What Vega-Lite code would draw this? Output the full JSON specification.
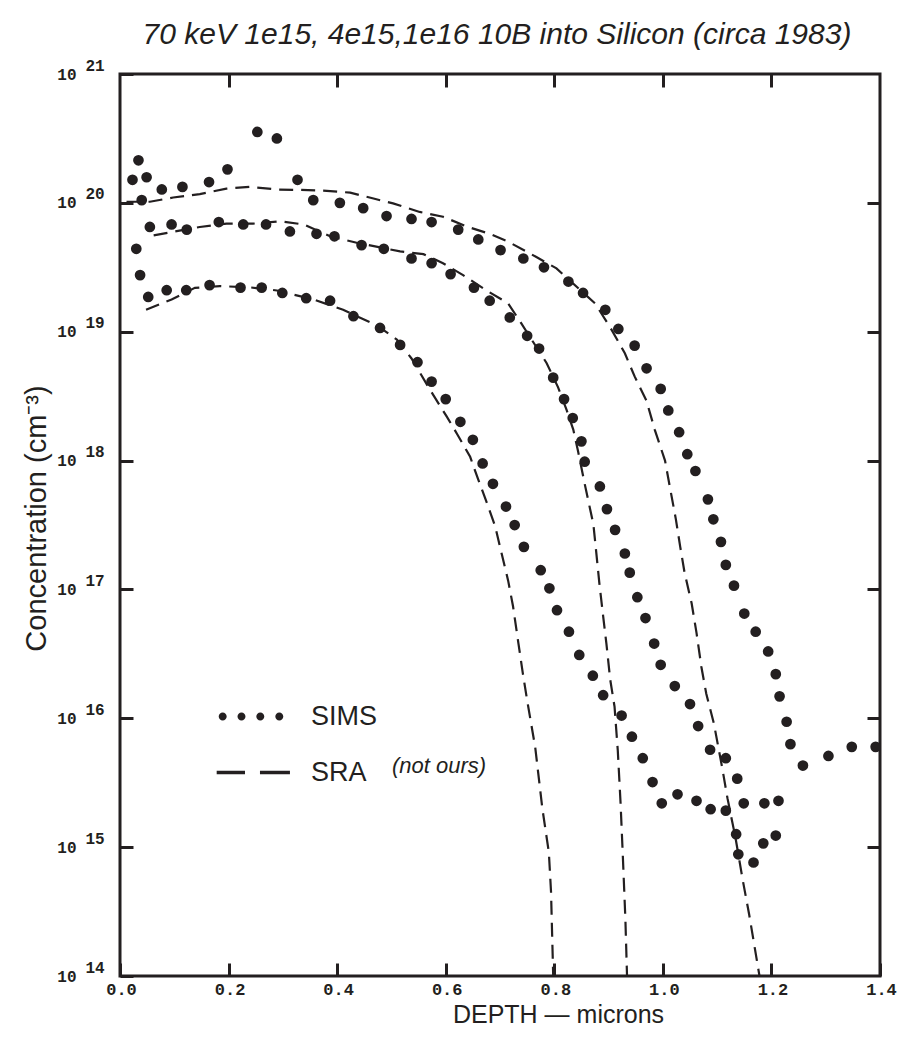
{
  "$schema": "https://vega.github.io/schema/vega-lite/v6.json",
  "width": 760,
  "height": 902,
  "autosize": {"type": "none"},
  "padding": {"left": 120, "top": 74, "right": 18, "bottom": 61},
  "background": "white",
  "title": {
    "text": "70 keV 1e15, 4e15,1e16 10B into Silicon (circa 1983)",
    "font": "Liberation Sans", "fontStyle": "italic", "fontWeight": "normal", "fontSize": 30,
    "color": "#231f20", "anchor": "middle", "baseline": "alphabetic", "offset": -17, "dx": -3
  },
  "datasets": {
    "sims": [
      {"method":"SIMS","dose":"1e16","depth":0.023,"conc":1.51e20},
      {"method":"SIMS","dose":"1e16","depth":0.034,"conc":2.14e20},
      {"method":"SIMS","dose":"1e16","depth":0.040,"conc":1.05e20},
      {"method":"SIMS","dose":"1e16","depth":0.049,"conc":1.58e20},
      {"method":"SIMS","dose":"1e16","depth":0.077,"conc":1.27e20},
      {"method":"SIMS","dose":"1e16","depth":0.115,"conc":1.33e20},
      {"method":"SIMS","dose":"1e16","depth":0.164,"conc":1.45e20},
      {"method":"SIMS","dose":"1e16","depth":0.198,"conc":1.82e20},
      {"method":"SIMS","dose":"1e16","depth":0.253,"conc":3.55e20},
      {"method":"SIMS","dose":"1e16","depth":0.289,"conc":3.16e20},
      {"method":"SIMS","dose":"1e16","depth":0.327,"conc":1.51e20},
      {"method":"SIMS","dose":"1e16","depth":0.356,"conc":1.05e20},
      {"method":"SIMS","dose":"1e16","depth":0.405,"conc":1.0e20},
      {"method":"SIMS","dose":"1e16","depth":0.448,"conc":9.1e19},
      {"method":"SIMS","dose":"1e16","depth":0.491,"conc":7.9e19},
      {"method":"SIMS","dose":"1e16","depth":0.537,"conc":7.5e19},
      {"method":"SIMS","dose":"1e16","depth":0.574,"conc":7.1e19},
      {"method":"SIMS","dose":"1e16","depth":0.623,"conc":6.2e19},
      {"method":"SIMS","dose":"1e16","depth":0.660,"conc":5.2e19},
      {"method":"SIMS","dose":"1e16","depth":0.701,"conc":4.3e19},
      {"method":"SIMS","dose":"1e16","depth":0.743,"conc":3.7e19},
      {"method":"SIMS","dose":"1e16","depth":0.781,"conc":3.16e19},
      {"method":"SIMS","dose":"1e16","depth":0.826,"conc":2.45e19},
      {"method":"SIMS","dose":"1e16","depth":0.853,"conc":2.0e19},
      {"method":"SIMS","dose":"1e16","depth":0.894,"conc":1.48e19},
      {"method":"SIMS","dose":"1e16","depth":0.918,"conc":1.05e19},
      {"method":"SIMS","dose":"1e16","depth":0.948,"conc":7.8e18},
      {"method":"SIMS","dose":"1e16","depth":0.970,"conc":5.2e18},
      {"method":"SIMS","dose":"1e16","depth":0.996,"conc":3.6e18},
      {"method":"SIMS","dose":"1e16","depth":1.010,"conc":2.45e18},
      {"method":"SIMS","dose":"1e16","depth":1.030,"conc":1.66e18},
      {"method":"SIMS","dose":"1e16","depth":1.045,"conc":1.12e18},
      {"method":"SIMS","dose":"1e16","depth":1.060,"conc":8.3e17},
      {"method":"SIMS","dose":"1e16","depth":1.083,"conc":5.0e17},
      {"method":"SIMS","dose":"1e16","depth":1.093,"conc":3.5e17},
      {"method":"SIMS","dose":"1e16","depth":1.107,"conc":2.34e17},
      {"method":"SIMS","dose":"1e16","depth":1.116,"conc":1.55e17},
      {"method":"SIMS","dose":"1e16","depth":1.131,"conc":1.07e17},
      {"method":"SIMS","dose":"1e16","depth":1.150,"conc":6.5e16},
      {"method":"SIMS","dose":"1e16","depth":1.171,"conc":4.7e16},
      {"method":"SIMS","dose":"1e16","depth":1.194,"conc":3.3e16},
      {"method":"SIMS","dose":"1e16","depth":1.208,"conc":2.2e16},
      {"method":"SIMS","dose":"1e16","depth":1.215,"conc":1.48e16},
      {"method":"SIMS","dose":"1e16","depth":1.228,"conc":9.4e15},
      {"method":"SIMS","dose":"1e16","depth":1.235,"conc":6.3e15},
      {"method":"SIMS","dose":"1e16","depth":1.258,"conc":4.3e15},
      {"method":"SIMS","dose":"1e16","depth":1.305,"conc":5.1e15},
      {"method":"SIMS","dose":"1e16","depth":1.348,"conc":6.0e15},
      {"method":"SIMS","dose":"1e16","depth":1.392,"conc":6.0e15},
      {"method":"SIMS","dose":"4e15","depth":0.030,"conc":4.4e19},
      {"method":"SIMS","dose":"4e15","depth":0.037,"conc":2.75e19},
      {"method":"SIMS","dose":"4e15","depth":0.055,"conc":6.5e19},
      {"method":"SIMS","dose":"4e15","depth":0.095,"conc":6.8e19},
      {"method":"SIMS","dose":"4e15","depth":0.123,"conc":6.2e19},
      {"method":"SIMS","dose":"4e15","depth":0.182,"conc":7.1e19},
      {"method":"SIMS","dose":"4e15","depth":0.227,"conc":6.8e19},
      {"method":"SIMS","dose":"4e15","depth":0.269,"conc":6.8e19},
      {"method":"SIMS","dose":"4e15","depth":0.313,"conc":6.0e19},
      {"method":"SIMS","dose":"4e15","depth":0.362,"conc":5.75e19},
      {"method":"SIMS","dose":"4e15","depth":0.395,"conc":5.5e19},
      {"method":"SIMS","dose":"4e15","depth":0.445,"conc":4.7e19},
      {"method":"SIMS","dose":"4e15","depth":0.486,"conc":4.4e19},
      {"method":"SIMS","dose":"4e15","depth":0.537,"conc":3.7e19},
      {"method":"SIMS","dose":"4e15","depth":0.574,"conc":3.4e19},
      {"method":"SIMS","dose":"4e15","depth":0.609,"conc":2.8e19},
      {"method":"SIMS","dose":"4e15","depth":0.652,"conc":2.2e19},
      {"method":"SIMS","dose":"4e15","depth":0.681,"conc":1.74e19},
      {"method":"SIMS","dose":"4e15","depth":0.718,"conc":1.29e19},
      {"method":"SIMS","dose":"4e15","depth":0.750,"conc":9.3e18},
      {"method":"SIMS","dose":"4e15","depth":0.772,"conc":7.4e18},
      {"method":"SIMS","dose":"4e15","depth":0.798,"conc":4.4e18},
      {"method":"SIMS","dose":"4e15","depth":0.818,"conc":3.0e18},
      {"method":"SIMS","dose":"4e15","depth":0.834,"conc":2.14e18},
      {"method":"SIMS","dose":"4e15","depth":0.850,"conc":1.41e18},
      {"method":"SIMS","dose":"4e15","depth":0.856,"conc":9.8e17},
      {"method":"SIMS","dose":"4e15","depth":0.884,"conc":6.3e17},
      {"method":"SIMS","dose":"4e15","depth":0.897,"conc":4.2e17},
      {"method":"SIMS","dose":"4e15","depth":0.912,"conc":2.9e17},
      {"method":"SIMS","dose":"4e15","depth":0.930,"conc":1.9e17},
      {"method":"SIMS","dose":"4e15","depth":0.939,"conc":1.35e17},
      {"method":"SIMS","dose":"4e15","depth":0.953,"conc":8.7e16},
      {"method":"SIMS","dose":"4e15","depth":0.968,"conc":6.0e16},
      {"method":"SIMS","dose":"4e15","depth":0.984,"conc":3.8e16},
      {"method":"SIMS","dose":"4e15","depth":0.996,"conc":2.6e16},
      {"method":"SIMS","dose":"4e15","depth":1.022,"conc":1.78e16},
      {"method":"SIMS","dose":"4e15","depth":1.050,"conc":1.29e16},
      {"method":"SIMS","dose":"4e15","depth":1.065,"conc":8.7e15},
      {"method":"SIMS","dose":"4e15","depth":1.087,"conc":5.7e15},
      {"method":"SIMS","dose":"4e15","depth":1.116,"conc":4.9e15},
      {"method":"SIMS","dose":"4e15","depth":1.137,"conc":3.4e15},
      {"method":"SIMS","dose":"4e15","depth":1.135,"conc":1.26e15},
      {"method":"SIMS","dose":"4e15","depth":1.139,"conc":8.8e14},
      {"method":"SIMS","dose":"4e15","depth":1.167,"conc":7.6e14},
      {"method":"SIMS","dose":"4e15","depth":1.185,"conc":1.07e15},
      {"method":"SIMS","dose":"4e15","depth":1.208,"conc":1.23e15},
      {"method":"SIMS","dose":"1e15","depth":0.052,"conc":1.86e19},
      {"method":"SIMS","dose":"1e15","depth":0.086,"conc":2.1e19},
      {"method":"SIMS","dose":"1e15","depth":0.122,"conc":2.1e19},
      {"method":"SIMS","dose":"1e15","depth":0.165,"conc":2.3e19},
      {"method":"SIMS","dose":"1e15","depth":0.222,"conc":2.2e19},
      {"method":"SIMS","dose":"1e15","depth":0.261,"conc":2.2e19},
      {"method":"SIMS","dose":"1e15","depth":0.299,"conc":2.0e19},
      {"method":"SIMS","dose":"1e15","depth":0.343,"conc":1.82e19},
      {"method":"SIMS","dose":"1e15","depth":0.387,"conc":1.74e19},
      {"method":"SIMS","dose":"1e15","depth":0.430,"conc":1.32e19},
      {"method":"SIMS","dose":"1e15","depth":0.479,"conc":1.07e19},
      {"method":"SIMS","dose":"1e15","depth":0.516,"conc":7.9e18},
      {"method":"SIMS","dose":"1e15","depth":0.548,"conc":5.8e18},
      {"method":"SIMS","dose":"1e15","depth":0.574,"conc":4.1e18},
      {"method":"SIMS","dose":"1e15","depth":0.600,"conc":3.0e18},
      {"method":"SIMS","dose":"1e15","depth":0.627,"conc":2.0e18},
      {"method":"SIMS","dose":"1e15","depth":0.650,"conc":1.45e18},
      {"method":"SIMS","dose":"1e15","depth":0.668,"conc":9.5e17},
      {"method":"SIMS","dose":"1e15","depth":0.687,"conc":6.6e17},
      {"method":"SIMS","dose":"1e15","depth":0.711,"conc":4.4e17},
      {"method":"SIMS","dose":"1e15","depth":0.727,"conc":3.16e17},
      {"method":"SIMS","dose":"1e15","depth":0.744,"conc":2.14e17},
      {"method":"SIMS","dose":"1e15","depth":0.775,"conc":1.41e17},
      {"method":"SIMS","dose":"1e15","depth":0.791,"conc":1.02e17},
      {"method":"SIMS","dose":"1e15","depth":0.805,"conc":6.9e16},
      {"method":"SIMS","dose":"1e15","depth":0.827,"conc":4.7e16},
      {"method":"SIMS","dose":"1e15","depth":0.846,"conc":3.1e16},
      {"method":"SIMS","dose":"1e15","depth":0.871,"conc":2.14e16},
      {"method":"SIMS","dose":"1e15","depth":0.890,"conc":1.51e16},
      {"method":"SIMS","dose":"1e15","depth":0.924,"conc":1.05e16},
      {"method":"SIMS","dose":"1e15","depth":0.943,"conc":7.2e15},
      {"method":"SIMS","dose":"1e15","depth":0.963,"conc":4.9e15},
      {"method":"SIMS","dose":"1e15","depth":0.981,"conc":3.2e15},
      {"method":"SIMS","dose":"1e15","depth":0.998,"conc":2.19e15},
      {"method":"SIMS","dose":"1e15","depth":1.027,"conc":2.57e15},
      {"method":"SIMS","dose":"1e15","depth":1.062,"conc":2.29e15},
      {"method":"SIMS","dose":"1e15","depth":1.088,"conc":1.97e15},
      {"method":"SIMS","dose":"1e15","depth":1.116,"conc":1.92e15},
      {"method":"SIMS","dose":"1e15","depth":1.149,"conc":2.19e15},
      {"method":"SIMS","dose":"1e15","depth":1.187,"conc":2.19e15},
      {"method":"SIMS","dose":"1e15","depth":1.213,"conc":2.29e15}
    ],
    "sra": [
      {"method":"SRA","dose":"1e15","depth":0.048,"conc":1.48e19},
      {"method":"SRA","dose":"1e15","depth":0.095,"conc":1.78e19},
      {"method":"SRA","dose":"1e15","depth":0.138,"conc":2.19e19},
      {"method":"SRA","dose":"1e15","depth":0.184,"conc":2.26e19},
      {"method":"SRA","dose":"1e15","depth":0.239,"conc":2.21e19},
      {"method":"SRA","dose":"1e15","depth":0.289,"conc":2.09e19},
      {"method":"SRA","dose":"1e15","depth":0.356,"conc":1.78e19},
      {"method":"SRA","dose":"1e15","depth":0.411,"conc":1.48e19},
      {"method":"SRA","dose":"1e15","depth":0.473,"conc":1.12e19},
      {"method":"SRA","dose":"1e15","depth":0.510,"conc":8.7e18},
      {"method":"SRA","dose":"1e15","depth":0.537,"conc":6.2e18},
      {"method":"SRA","dose":"1e15","depth":0.571,"conc":3.55e18},
      {"method":"SRA","dose":"1e15","depth":0.602,"conc":2.19e18},
      {"method":"SRA","dose":"1e15","depth":0.622,"conc":1.58e18},
      {"method":"SRA","dose":"1e15","depth":0.645,"conc":1.07e18},
      {"method":"SRA","dose":"1e15","depth":0.660,"conc":7.1e17},
      {"method":"SRA","dose":"1e15","depth":0.675,"conc":4.8e17},
      {"method":"SRA","dose":"1e15","depth":0.691,"conc":3.1e17},
      {"method":"SRA","dose":"1e15","depth":0.703,"conc":1.9e17},
      {"method":"SRA","dose":"1e15","depth":0.715,"conc":1.17e17},
      {"method":"SRA","dose":"1e15","depth":0.724,"conc":7.4e16},
      {"method":"SRA","dose":"1e15","depth":0.734,"conc":3.8e16},
      {"method":"SRA","dose":"1e15","depth":0.742,"conc":2.24e16},
      {"method":"SRA","dose":"1e15","depth":0.750,"conc":1.38e16},
      {"method":"SRA","dose":"1e15","depth":0.765,"conc":5.9e15},
      {"method":"SRA","dose":"1e15","depth":0.778,"conc":2.0e15},
      {"method":"SRA","dose":"1e15","depth":0.790,"conc":9.1e14},
      {"method":"SRA","dose":"1e15","depth":0.794,"conc":4.5e14},
      {"method":"SRA","dose":"1e15","depth":0.798,"conc":1.0e14},
      {"method":"SRA","dose":"4e15","depth":0.062,"conc":5.6e19},
      {"method":"SRA","dose":"4e15","depth":0.147,"conc":6.5e19},
      {"method":"SRA","dose":"4e15","depth":0.196,"conc":6.9e19},
      {"method":"SRA","dose":"4e15","depth":0.245,"conc":6.9e19},
      {"method":"SRA","dose":"4e15","depth":0.295,"conc":7.2e19},
      {"method":"SRA","dose":"4e15","depth":0.338,"conc":6.8e19},
      {"method":"SRA","dose":"4e15","depth":0.387,"conc":5.5e19},
      {"method":"SRA","dose":"4e15","depth":0.436,"conc":4.9e19},
      {"method":"SRA","dose":"4e15","depth":0.516,"conc":4.2e19},
      {"method":"SRA","dose":"4e15","depth":0.559,"conc":4.0e19},
      {"method":"SRA","dose":"4e15","depth":0.595,"conc":3.4e19},
      {"method":"SRA","dose":"4e15","depth":0.632,"conc":2.75e19},
      {"method":"SRA","dose":"4e15","depth":0.675,"conc":2.09e19},
      {"method":"SRA","dose":"4e15","depth":0.715,"conc":1.66e19},
      {"method":"SRA","dose":"4e15","depth":0.737,"conc":1.2e19},
      {"method":"SRA","dose":"4e15","depth":0.786,"conc":5.7e18},
      {"method":"SRA","dose":"4e15","depth":0.807,"conc":3.7e18},
      {"method":"SRA","dose":"4e15","depth":0.823,"conc":2.45e18},
      {"method":"SRA","dose":"4e15","depth":0.835,"conc":1.74e18},
      {"method":"SRA","dose":"4e15","depth":0.844,"conc":1.17e18},
      {"method":"SRA","dose":"4e15","depth":0.856,"conc":6.6e17},
      {"method":"SRA","dose":"4e15","depth":0.872,"conc":3.2e17},
      {"method":"SRA","dose":"4e15","depth":0.877,"conc":2.0e17},
      {"method":"SRA","dose":"4e15","depth":0.883,"conc":1.12e17},
      {"method":"SRA","dose":"4e15","depth":0.890,"conc":6.2e16},
      {"method":"SRA","dose":"4e15","depth":0.896,"conc":3.8e16},
      {"method":"SRA","dose":"4e15","depth":0.903,"conc":2.0e16},
      {"method":"SRA","dose":"4e15","depth":0.911,"conc":1.23e16},
      {"method":"SRA","dose":"4e15","depth":0.917,"conc":5.6e15},
      {"method":"SRA","dose":"4e15","depth":0.922,"conc":2.24e15},
      {"method":"SRA","dose":"4e15","depth":0.926,"conc":9.1e14},
      {"method":"SRA","dose":"4e15","depth":0.931,"conc":2.75e14},
      {"method":"SRA","dose":"4e15","depth":0.934,"conc":1.0e14},
      {"method":"SRA","dose":"1e16","depth":0.012,"conc":1.02e20},
      {"method":"SRA","dose":"1e16","depth":0.055,"conc":1.02e20},
      {"method":"SRA","dose":"1e16","depth":0.098,"conc":1.10e20},
      {"method":"SRA","dose":"1e16","depth":0.147,"conc":1.17e20},
      {"method":"SRA","dose":"1e16","depth":0.196,"conc":1.29e20},
      {"method":"SRA","dose":"1e16","depth":0.239,"conc":1.33e20},
      {"method":"SRA","dose":"1e16","depth":0.289,"conc":1.27e20},
      {"method":"SRA","dose":"1e16","depth":0.331,"conc":1.26e20},
      {"method":"SRA","dose":"1e16","depth":0.381,"conc":1.24e20},
      {"method":"SRA","dose":"1e16","depth":0.424,"conc":1.20e20},
      {"method":"SRA","dose":"1e16","depth":0.467,"conc":1.08e20},
      {"method":"SRA","dose":"1e16","depth":0.503,"conc":9.9e19},
      {"method":"SRA","dose":"1e16","depth":0.552,"conc":8.5e19},
      {"method":"SRA","dose":"1e16","depth":0.595,"conc":7.8e19},
      {"method":"SRA","dose":"1e16","depth":0.641,"conc":6.5e19},
      {"method":"SRA","dose":"1e16","depth":0.681,"conc":5.75e19},
      {"method":"SRA","dose":"1e16","depth":0.715,"conc":5.0e19},
      {"method":"SRA","dose":"1e16","depth":0.767,"conc":3.8e19},
      {"method":"SRA","dose":"1e16","depth":0.804,"conc":3.1e19},
      {"method":"SRA","dose":"1e16","depth":0.875,"conc":1.66e19},
      {"method":"SRA","dose":"1e16","depth":0.902,"conc":1.10e19},
      {"method":"SRA","dose":"1e16","depth":0.930,"conc":6.8e18},
      {"method":"SRA","dose":"1e16","depth":0.948,"conc":4.5e18},
      {"method":"SRA","dose":"1e16","depth":0.970,"conc":2.9e18},
      {"method":"SRA","dose":"1e16","depth":0.985,"conc":1.74e18},
      {"method":"SRA","dose":"1e16","depth":1.004,"conc":1.0e18},
      {"method":"SRA","dose":"1e16","depth":1.013,"conc":6.2e17},
      {"method":"SRA","dose":"1e16","depth":1.024,"conc":3.5e17},
      {"method":"SRA","dose":"1e16","depth":1.032,"conc":2.14e17},
      {"method":"SRA","dose":"1e16","depth":1.040,"conc":1.35e17},
      {"method":"SRA","dose":"1e16","depth":1.053,"conc":7.8e16},
      {"method":"SRA","dose":"1e16","depth":1.062,"conc":4.6e16},
      {"method":"SRA","dose":"1e16","depth":1.071,"conc":2.5e16},
      {"method":"SRA","dose":"1e16","depth":1.080,"conc":1.55e16},
      {"method":"SRA","dose":"1e16","depth":1.094,"conc":9.1e15},
      {"method":"SRA","dose":"1e16","depth":1.109,"conc":4.2e15},
      {"method":"SRA","dose":"1e16","depth":1.119,"conc":2.4e15},
      {"method":"SRA","dose":"1e16","depth":1.134,"conc":1.17e15},
      {"method":"SRA","dose":"1e16","depth":1.147,"conc":5.6e14},
      {"method":"SRA","dose":"1e16","depth":1.159,"conc":3.0e14},
      {"method":"SRA","dose":"1e16","depth":1.178,"conc":1.0e14}
    ],
    "note": [
      {"label":"(not ours)","depth":0.501,"conc":4.27e15}
    ],
    "keys": [
      {"method":"SIMS"},
      {"method":"SRA"}
    ]
  },
  "layer": [
    {
      "data": {"name": "sims"},
      "mark": {"type": "point", "filled": true, "shape": "circle", "size": 115, "color": "#231f20", "opacity": 1, "strokeWidth": 0},
      "encoding": {
        "x": {
          "field": "depth", "type": "quantitative",
          "scale": {"domain": [0, 1.4], "nice": false, "zero": false},
          "axis": {
            "orient": "bottom", "values": [0, 0.2, 0.4, 0.6, 0.8, 1.0, 1.2, 1.4], "format": ".1f",
            "domain": false, "grid": false,
            "ticks": true, "tickSize": -13, "tickWidth": 3, "tickColor": "#231f20",
            "labelFont": "Liberation Mono", "labelFontWeight": "bold", "labelFontSize": 17, "labelColor": "#231f20",
            "labelPadding": 18, "labelOffset": 1, "labelFlush": false, "labelOverlap": false, "labelBound": false,
            "title": "DEPTH — microns", "titleFont": "Liberation Sans", "titleFontSize": 25, "titleFontWeight": "normal",
            "titleColor": "#231f20", "titleX": 438, "titleY": 38, "titleBaseline": "middle", "titleAlign": "center"
          }
        },
        "y": {
          "field": "conc", "type": "quantitative",
          "scale": {"type": "log", "domain": [1e14, 1e21], "nice": false},
          "axis": {
            "orient": "left", "values": [1e14, 1e15, 1e16, 1e17, 1e18, 1e19, 1e20, 1e21],
            "labelExpr": "'10'",
            "domain": false, "grid": false,
            "ticks": true, "tickSize": -13, "tickWidth": 3, "tickColor": "#231f20",
            "labelFont": "Liberation Mono", "labelFontWeight": "bold", "labelFontSize": 16, "labelColor": "#231f20",
            "labelPadding": 57, "labelAlign": "right", "labelBaseline": "middle", "labelFlush": false, "labelOverlap": false, "labelBound": false,
            "title": "Concentration (cm⁻³)", "titleFont": "Liberation Sans", "titleFontSize": 29, "titleFontWeight": "normal",
            "titleColor": "#231f20", "titleX": -84, "titleY": 444, "titleAngle": 270, "titleBaseline": "middle", "titleAlign": "center"
          }
        }
      }
    },
    {
      "data": {"name": "sra"},
      "mark": {"type": "line", "color": "#231f20", "strokeWidth": 2.2, "strokeDash": [14, 8], "interpolate": "linear", "clip": true},
      "encoding": {
        "x": {
          "field": "depth", "type": "quantitative",
          "axis": {
            "orient": "top", "values": [0.2, 0.4, 0.6, 0.8, 1.0, 1.2], "domain": false, "grid": false,
            "labels": false, "ticks": true, "tickSize": -13, "tickWidth": 3, "tickColor": "#231f20", "title": null
          }
        },
        "y": {
          "field": "conc", "type": "quantitative",
          "axis": {
            "orient": "left", "values": [1e14, 1e15, 1e16, 1e17, 1e18, 1e19, 1e20, 1e21],
            "labelExpr": "'' + round(log(datum.value) / LN10)",
            "domain": false, "grid": false, "ticks": false,
            "labelFont": "Liberation Mono", "labelFontWeight": "bold", "labelFontSize": 16, "labelColor": "#231f20",
            "labelPadding": 35, "labelAlign": "left", "labelBaseline": "middle", "labelOffset": -9,
            "labelFlush": false, "labelOverlap": false, "labelBound": false, "title": null
          }
        },
        "detail": {"field": "dose", "type": "nominal"}
      }
    },
    {
      "data": {"name": "note"},
      "mark": {"type": "text", "font": "Liberation Sans", "fontStyle": "italic", "fontSize": 22, "color": "#231f20", "align": "left", "baseline": "middle"},
      "encoding": {
        "x": {"field": "depth", "type": "quantitative", "axis": null},
        "y": {
          "field": "conc", "type": "quantitative",
          "axis": {
            "orient": "right", "values": [1e15, 1e16, 1e17, 1e18, 1e19, 1e20], "domain": false, "grid": false,
            "labels": false, "ticks": true, "tickSize": -13, "tickWidth": 3, "tickColor": "#231f20", "title": null
          }
        },
        "text": {"field": "label"}
      }
    },
    {
      "data": {"name": "keys"},
      "mark": {"type": "point", "filled": true, "color": "#231f20", "opacity": 0},
      "encoding": {
        "shape": {
          "field": "method", "type": "nominal",
          "scale": {
            "domain": ["SIMS", "SRA"],
            "range": [
              "M-1.881,0A0.216,0.216 0 1,0 -1.449,0A0.216,0.216 0 1,0 -1.881,0ZM-0.865,0A0.216,0.216 0 1,0 -0.433,0A0.216,0.216 0 1,0 -0.865,0ZM0.152,0A0.216,0.216 0 1,0 0.584,0A0.216,0.216 0 1,0 0.152,0ZM1.179,0A0.216,0.216 0 1,0 1.611,0A0.216,0.216 0 1,0 1.179,0Z",
              "M-1.99,-0.092L-0.46,-0.092L-0.46,0.092L-1.99,0.092ZM0.35,-0.092L1.97,-0.092L1.97,0.092L0.35,0.092Z"
            ]
          },
          "legend": {
            "title": null, "orient": "none", "legendX": 115, "legendY": 624, "padding": 0,
            "symbolSize": 1369, "symbolOpacity": 1, "symbolFillColor": "#231f20", "symbolStrokeWidth": 0,
            "labelFont": "Liberation Sans", "labelFontSize": 27, "labelColor": "#231f20",
            "labelOffset": 39, "rowPadding": 24,
            "encode": {
              "symbols": {
                "opacity": {"value": 1},
                "fill": {"value": "#231f20"},
                "size": {"value": 1369}
              },
              "labels": {
                "dy": {"value": -10}
              }
            }
          }
        }
      }
    }
  ],
  "resolve": {"axis": {"x": "independent", "y": "independent"}},
  "config": {
    "font": "Liberation Sans",
    "view": {"stroke": "#231f20", "strokeWidth": 3}
  }
}
